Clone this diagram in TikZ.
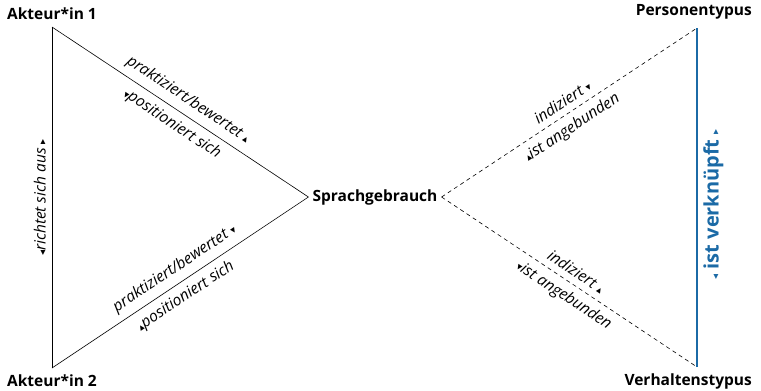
\documentclass[tikz,border=0pt]{standalone}
\usepackage{fontspec}
\setmainfont{Open Sans}
\newfontfamily\markfont{DejaVu Sans}
\usetikzlibrary{positioning}
\definecolor{linkblue}{RGB}{27,106,166}
\newcommand{\tipup}{{\markfont\fontsize{10}{10}\selectfont ▴}}
\newcommand{\tipdown}{{\markfont\fontsize{10}{10}\selectfont ▾}}
\newcommand{\tipright}{{\markfont\fontsize{10}{10}\selectfont ▸}}
\newcommand{\tipleft}{{\markfont\fontsize{10}{10}\selectfont ◂}}

\begin{document}
\begin{tikzpicture}[x=1pt,y=-1pt,
  actor/.style={font=\fontsize{15.5}{17}\selectfont\bfseries, inner sep=0pt},
  relation/.style={font=\fontsize{15.5}{17}\selectfont\itshape, sloped, inner sep=6.5pt},
  tie/.style={dash pattern=on 4pt off 3.5pt, line width=0.6pt}]
\useasboundingbox (0,0) rectangle (761,391);
\coordinate (a1) at (52,27);
\coordinate (a2) at (52,368);
\coordinate (pt) at (697,28);
\coordinate (vt) at (697,367);
\node[actor] (akt1) at (52,14) {Akteur*in 1};
\node[actor] (akt2) at (52,381) {Akteur*in 2};
\node[actor, anchor=east] (pers) at (752,12) {Personentypus};
\node[actor, anchor=east] (verh) at (752,381) {Verhaltenstypus};
\node[actor, inner sep=4pt] (sprache) at (375,197) {Sprachgebrauch};
%triangle
\draw[line width=0.6pt] (a1) -- node[relation, above, pos=0.5] {praktiziert/bewertet \tipup}
  node[relation, below, pos=0.5] {\tipdown positioniert sich} (sprache.west);
\draw[line width=0.6pt] (a2) -- node[relation, above, pos=0.51] {praktiziert/bewertet \tipdown}
  node[relation, below, pos=0.49] {\tipup positioniert sich} (sprache.west);
\draw[line width=0.6pt] (a2) -- node[relation, above, inner sep=6pt] {\tipleft richtet sich aus \tipright} (a1);
%types
\draw[tie] (sprache.east) -- node[relation, above, pos=0.5] {indiziert \tipdown}
  node[relation, below, pos=0.48] {\tipup ist angebunden} (pt);
\draw[tie] (sprache.east) -- node[relation, above, pos=0.5] {indiziert \tipup}
  node[relation, below, pos=0.51] {\tipdown ist angebunden} (vt);
\draw[linkblue, line width=2.6pt] (vt) -- node[sloped, below, pos=0.48, inner sep=5pt,
  font=\fontsize{20}{22}\selectfont\bfseries] {\tipleft\ ist verknüpft \tipright} (pt);
\end{tikzpicture}
\end{document}
